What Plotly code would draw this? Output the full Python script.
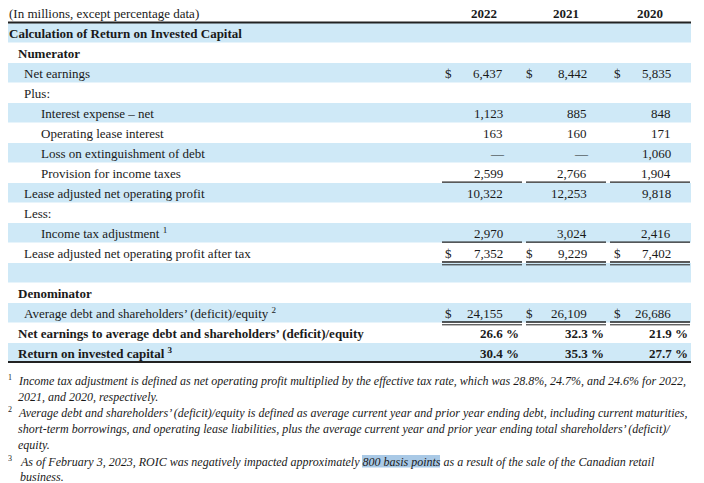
import plotly.graph_objects as go

# ---------------- data ----------------
years = ["2022", "2021", "2020"]
row_labels = [
    "Calculation of Return on Invested Capital",
    "Numerator",
    "Net earnings",
    "Plus:",
    "Interest expense – net",
    "Operating lease interest",
    "Loss on extinguishment of debt",
    "Provision for income taxes",
    "Lease adjusted net operating profit",
    "Less:",
    "Income tax adjustment",
    "Lease adjusted net operating profit after tax",
    "",
    "Denominator",
    "Average debt and shareholders’ (deficit)/equity",
    "Net earnings to average debt and shareholders’ (deficit)/equity",
    "Return on invested capital",
]
values_2022 = [None, None, 6437, None, 1123, 163, "—", 2599, 10322, None, 2970, 7352, None, None, 24155, 26.6, 30.4]
values_2021 = [None, None, 8442, None, 885, 160, "—", 2766, 12253, None, 3024, 9229, None, None, 26109, 32.3, 35.3]
values_2020 = [None, None, 5835, None, 848, 171, 1060, 1904, 9818, None, 2416, 7402, None, None, 26686, 21.9, 27.7]
row_footnote = [None, None, None, None, None, None, None, None, None, None, "1", None, None, None, "2", None, "3"]
unit_note = "(In millions, except percentage data)"
footnotes = [
    ("1", ["Income tax adjustment is defined as net operating profit multiplied by the effective tax rate, which was 28.8%, 24.7%, and 24.6% for 2022,",
           "2021, and 2020, respectively."]),
    ("2", ["Average debt and shareholders’ (deficit)/equity is defined as average current year and prior year ending debt, including current maturities,",
           "short-term borrowings, and operating lease liabilities, plus the average current year and prior year ending total shareholders’ (deficit)/",
           "equity."]),
    ("3", ["As of February 3, 2023, ROIC was negatively impacted approximately 800 basis points as a result of the sale of the Canadian retail",
           "business."]),
]

# ---------------- styling ----------------
FONT = "Liberation Serif, Times New Roman, serif"
TXT = "#1a1a1a"
BAND = "#cfe9f7"
W, H = 704, 483
OFF = 8  # page body margin
row_top0 = 23
row_h = 20
indent = [10, 19, 25, 25, 42, 42, 42, 42, 25, 25, 42, 25, 25, 19, 25, 19, 19]
bold_rows = {0, 1, 13, 15, 16}
dollar_rows = {2, 11, 14}
pct_rows = {15, 16}
single_under = {7, 10}
double_under = {11, 14}
col_num_right = [503, 587, 671]
col_dollar_x = [448, 529, 617]
col_line = [(442, 522), (526, 606), (610, 690)]
col_pct_right = [519, 604, 688]
year_center = [484, 566, 650]
band_rows = [i for i in range(len(row_labels)) if i % 2 == 0]

fig = go.Figure()
fig.add_trace(go.Scatter(x=[OFF, W], y=[OFF, H], mode="markers", marker=dict(opacity=0), hoverinfo="skip", showlegend=False))

shapes = []
ann = []

def text(x, y, s, size=13, bold=False, italic=False, xanchor="left", color=TXT):
    if bold:
        s = "<b>" + s + "</b>"
    if italic:
        s = "<i>" + s + "</i>"
    ann.append(dict(x=x, y=y, xref="x", yref="y", text=s, showarrow=False, xanchor=xanchor, yanchor="middle",
                    font=dict(family=FONT, size=size, color=color), borderpad=0, borderwidth=0))

def line(x0, x1, y, w=1.2, color="#222"):
    shapes.append(dict(type="line", xref="x", yref="y", x0=x0, x1=x1, y0=y, y1=y, line=dict(color=color, width=w)))

# header
text(9, 13.2, unit_note)
for yr, xc in zip(years, year_center):
    text(xc, 13.2, yr, bold=True, xanchor="center")
line(8, 691, 22.5, w=2)

vals = [values_2022, values_2021, values_2020]
for i, lab in enumerate(row_labels):
    top = row_top0 + i * row_h
    mid = top + row_h / 2
    if i in band_rows:
        shapes.append(dict(type="rect", xref="x", yref="y", x0=6, x1=691, y0=top, y1=top + row_h - 0.5,
                           fillcolor=BAND, line=dict(width=0), layer="below"))
    if lab:
        s = lab
        if row_footnote[i]:
            s += " <sup>" + row_footnote[i] + "</sup>"
        text(indent[i] - 1, mid, s, bold=i in bold_rows)
    for c in range(3):
        v = vals[c][i]
        if v is None:
            continue
        if i in pct_rows:
            text(col_pct_right[c], mid, f"{v:.1f} %", bold=True, xanchor="right")
        else:
            s = v if isinstance(v, str) else f"{v:,}"
            if isinstance(v, str):
                text(col_num_right[c] + 2, mid, s, xanchor="right")
            else:
                text(col_num_right[c], mid, s, xanchor="right")
        if i in dollar_rows:
            text(col_dollar_x[c], mid, "$", xanchor="center")
        x0, x1 = col_line[c]
        if i in single_under:
            line(x0, x1, top + row_h - 0.8, w=1.3)
        if i in double_under:
            line(x0, x1, top + row_h - 1.0, w=1.6)
            line(x0, x1, top + row_h + 1.8, w=1.0)

# bottom rule
line(8, 691, row_top0 + len(row_labels) * row_h - 1, w=2)

# footnotes
shapes.append(dict(type="rect", xref="x", yref="y", x0=362, x1=440, y0=455, y1=467.5,
                   fillcolor="#a9c9e6", line=dict(width=0), layer="below"))
fy = [[381, 397], [413, 429, 445], [462, 477]]
fx = [19, 19, 21]
for (num, lines_), ys, x in zip(footnotes, fy, fx):
    text(8, ys[0] - 4, num, size=8)
    for ln, yy in zip(lines_, ys):
        text(x - 1, yy, ln, size=12, italic=True)

fig.update_layout(
    width=W - OFF, height=H - OFF, margin=dict(l=0, r=0, t=0, b=0),
    paper_bgcolor="white", plot_bgcolor="white",
    xaxis=dict(range=[OFF, W], visible=False, fixedrange=True),
    yaxis=dict(range=[H, OFF], visible=False, fixedrange=True),
    shapes=shapes, annotations=ann, showlegend=False,
)
fig.write_html("out.html")
